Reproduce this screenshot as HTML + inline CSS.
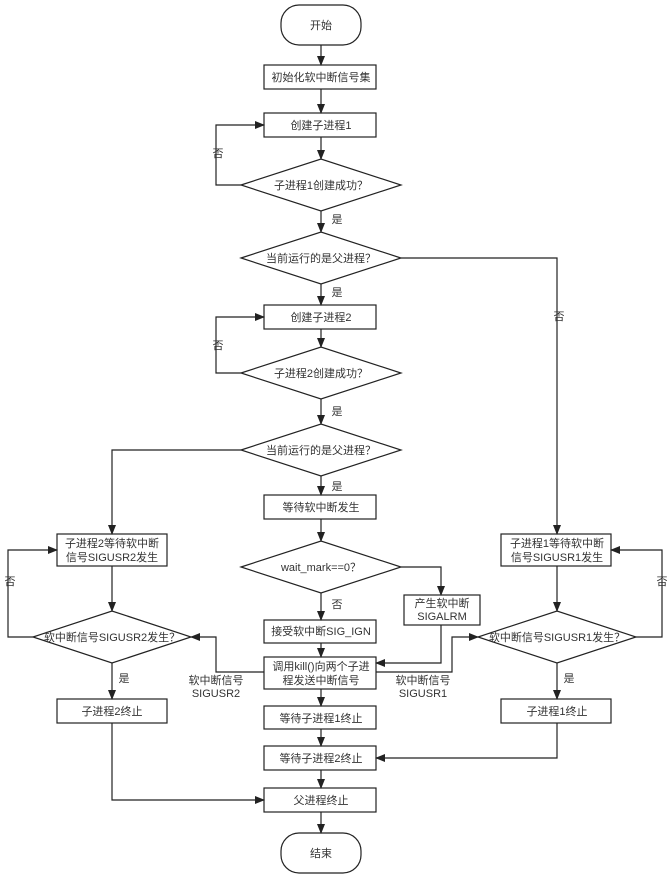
<!DOCTYPE html>
<html><head><meta charset="utf-8"><style>
html,body{margin:0;padding:0;background:#fff}
svg text{font-family:"Liberation Sans","Noto Sans CJK SC",sans-serif;font-size:11px;fill:#333}
</style></head><body>
<svg width="672" height="876" viewBox="0 0 672 876" xmlns="http://www.w3.org/2000/svg">
<defs><marker id="a" markerWidth="10" markerHeight="8" refX="9" refY="4" orient="auto" markerUnits="userSpaceOnUse"><path d="M0,0 L10,4 L0,8 z" fill="#222"/></marker></defs>
<g fill="#fff" stroke="#222" stroke-width="1.2">
<rect x="281" y="5" width="80" height="40" rx="18"/>
<rect x="264" y="65" width="112" height="24"/>
<rect x="264" y="113" width="112" height="24"/>
<polygon points="241,185 321,159 401,185 321,211"/>
<polygon points="241,258 321,232 401,258 321,284"/>
<rect x="264" y="305" width="112" height="24"/>
<polygon points="241,373 321,347 401,373 321,399"/>
<polygon points="241,450 321,424 401,450 321,476"/>
<rect x="264" y="495" width="112" height="24"/>
<polygon points="241,567 321,541 401,567 321,593"/>
<rect x="404" y="595" width="76" height="30"/>
<rect x="264" y="620" width="112" height="23"/>
<rect x="264" y="657" width="112" height="32"/>
<rect x="264" y="706" width="112" height="23"/>
<rect x="264" y="746" width="112" height="24"/>
<rect x="264" y="788" width="112" height="24"/>
<rect x="281" y="833" width="80" height="40" rx="18"/>
<rect x="57" y="534" width="110" height="32"/>
<polygon points="33,637 112,611 191,637 112,663"/>
<rect x="57" y="699" width="110" height="24"/>
<rect x="501" y="534" width="110" height="32"/>
<polygon points="478,637 557,611 636,637 557,663"/>
<rect x="501" y="699" width="110" height="24"/>
</g>
<g fill="none" stroke="#222" stroke-width="1.2" marker-end="url(#a)">
<line x1="321" y1="45" x2="321" y2="65"/>
<line x1="321" y1="89" x2="321" y2="113"/>
<line x1="321" y1="137" x2="321" y2="159"/>
<polyline points="241,185 216,185 216,125 264,125"/>
<line x1="321" y1="211" x2="321" y2="232"/>
<polyline points="401,258 557,258 557,534"/>
<line x1="321" y1="284" x2="321" y2="305"/>
<line x1="321" y1="329" x2="321" y2="347"/>
<polyline points="241,373 216,373 216,317 264,317"/>
<line x1="321" y1="399" x2="321" y2="424"/>
<polyline points="241,450 112,450 112,534"/>
<line x1="321" y1="476" x2="321" y2="495"/>
<line x1="321" y1="519" x2="321" y2="541"/>
<polyline points="401,567 441,567 441,595"/>
<line x1="321" y1="593" x2="321" y2="620"/>
<polyline points="441,625 441,663 376,663"/>
<line x1="321" y1="643" x2="321" y2="657"/>
<polyline points="264,672 216,672 216,637 191,637"/>
<polyline points="376,672 452,672 452,637 478,637"/>
<line x1="321" y1="689" x2="321" y2="706"/>
<line x1="321" y1="729" x2="321" y2="746"/>
<line x1="321" y1="770" x2="321" y2="788"/>
<line x1="321" y1="812" x2="321" y2="833"/>
<line x1="112" y1="566" x2="112" y2="611"/>
<polyline points="33,637 8,637 8,550 57,550"/>
<line x1="112" y1="663" x2="112" y2="699"/>
<polyline points="112,723 112,800 264,800"/>
<line x1="557" y1="566" x2="557" y2="611"/>
<polyline points="636,637 662,637 662,550 611,550"/>
<line x1="557" y1="663" x2="557" y2="699"/>
<polyline points="557,723 557,758 376,758"/>
</g>
<g text-anchor="middle">
<text x="321" y="29">开始</text>
<text x="321" y="81">初始化软中断信号集</text>
<text x="321" y="129">创建子进程1</text>
<text x="321" y="189">子进程1创建成功？</text>
<text x="321" y="262">当前运行的是父进程？</text>
<text x="321" y="321">创建子进程2</text>
<text x="321" y="377">子进程2创建成功？</text>
<text x="321" y="454">当前运行的是父进程？</text>
<text x="321" y="511">等待软中断发生</text>
<text x="321" y="571">wait_mark==0？</text>
<text x="442" y="607">产生软中断</text>
<text x="442" y="620">SIGALRM</text>
<text x="321" y="635">接受软中断SIG_IGN</text>
<text x="321" y="670">调用kill()向两个子进</text>
<text x="321" y="684">程发送中断信号</text>
<text x="321" y="722">等待子进程1终止</text>
<text x="321" y="762">等待子进程2终止</text>
<text x="321" y="804">父进程终止</text>
<text x="321" y="857">结束</text>
<text x="112" y="547">子进程2等待软中断</text>
<text x="112" y="561">信号SIGUSR2发生</text>
<text x="112" y="641">软中断信号SIGUSR2发生？</text>
<text x="112" y="715">子进程2终止</text>
<text x="557" y="547">子进程1等待软中断</text>
<text x="557" y="561">信号SIGUSR1发生</text>
<text x="557" y="641">软中断信号SIGUSR1发生？</text>
<text x="557" y="715">子进程1终止</text>
<text x="216" y="684">软中断信号</text>
<text x="216" y="697">SIGUSR2</text>
<text x="423" y="684">软中断信号</text>
<text x="423" y="697">SIGUSR1</text>
<text x="337" y="223">是</text>
<text x="337" y="296">是</text>
<text x="337" y="415">是</text>
<text x="337" y="490">是</text>
<text x="337" y="608">否</text>
<text x="124" y="682">是</text>
<text x="569" y="682">是</text>
<text x="559" y="320">否</text>
<text x="218" y="157">否</text>
<text x="218" y="349">否</text>
<text x="10" y="585">否</text>
<text x="662" y="585">否</text>
</g>
</svg>
</body></html>
